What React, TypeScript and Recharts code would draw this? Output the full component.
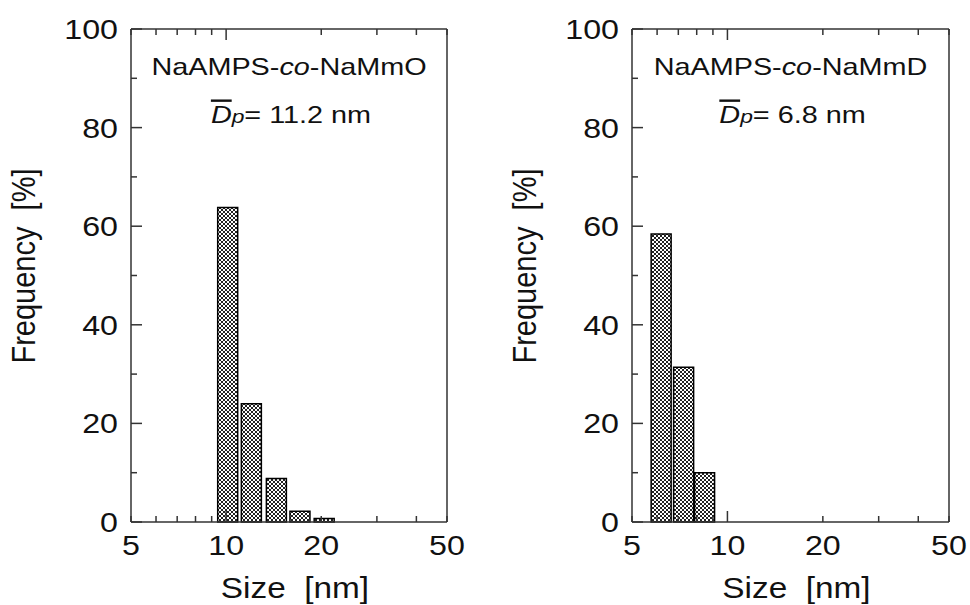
import { ComposedChart, Bar, XAxis, YAxis, Customized } from 'recharts'

const LEFT_SIZE = [10.1, 12.0, 14.4, 17.1, 20.4]
const LEFT_FREQ = [63.8, 24.0, 8.8, 2.2, 0.7]
const RIGHT_SIZE = [6.2, 7.3, 8.5]
const RIGHT_FREQ = [58.4, 31.4, 10.0]

const X_TICKS = [5, 6, 7, 8, 9, 10, 20, 30, 40, 50]
const X_LABELS = [5, 10, 20, 50]
const X_MAJOR = [10]
const Y_TICKS = [0, 10, 20, 30, 40, 50, 60, 70, 80, 90, 100]
const Y_LABELS = [0, 20, 40, 60, 80, 100]

const FONT = '"Liberation Sans", Arial, Helvetica, sans-serif'
const STRETCH = 1.15
const AXIS_COLOR = '#333'

const W = 485
const H = 605
const TOP = 29
const BOTTOM = 522

interface PanelProps {
  id: string
  left: number
  plotLeft: number
  plotRight: number
  sizes: number[]
  freqs: number[]
  title: string
  mean: string
}

const YTickLeft = (props: any) => {
  const { x, y, payload } = props
  const major = Y_LABELS.includes(payload.value)
  return (
    <g>
      <line x1={x} x2={x + (major ? 11 : 6)} y1={y} y2={y} stroke={AXIS_COLOR} strokeWidth={1.5} />
      {major && (
        <text
          transform={`translate(${x - 13},${y + 10}) scale(${STRETCH},1)`}
          textAnchor="end"
          fontSize={28}
          fontFamily={FONT}
          fill="#111"
        >
          {payload.value}
        </text>
      )}
    </g>
  )
}

const YTickRight = (props: any) => {
  const { x, y, payload } = props
  const major = Y_LABELS.includes(payload.value)
  return <line x1={x} x2={x - (major ? 11 : 6)} y1={y} y2={y} stroke={AXIS_COLOR} strokeWidth={1.5} />
}

const XTickBottom = (props: any) => {
  const { x, y, payload } = props
  const major = X_MAJOR.includes(payload.value)
  return (
    <g>
      <line x1={x} x2={x} y1={y} y2={y - (major ? 11 : 6)} stroke={AXIS_COLOR} strokeWidth={1.5} />
      {X_LABELS.includes(payload.value) && (
        <text
          transform={`translate(${x},${y + 33}) scale(${STRETCH},1)`}
          textAnchor="middle"
          fontSize={28}
          fontFamily={FONT}
          fill="#111"
        >
          {payload.value}
        </text>
      )}
    </g>
  )
}

const XTickTop = (props: any) => {
  const { x, y, payload } = props
  const major = X_MAJOR.includes(payload.value)
  return <line x1={x} x2={x} y1={y} y2={y + (major ? 11 : 6)} stroke={AXIS_COLOR} strokeWidth={1.5} />
}

const Panel = ({ id, left, plotLeft, plotRight, sizes, freqs, title, mean }: PanelProps) => {
  const data = sizes.map((s, i) => ({ size: s, freq: freqs[i] }))
  const cx = (plotLeft + plotRight) / 2
  const [head, tail] = title.split('-co-')

  const Notes = () => (
    <g fontFamily={FONT} fill="#111">
      <text transform={`translate(${cx},75) scale(1.2,1)`} textAnchor="middle" fontSize={24}>
        {head}-<tspan fontStyle="italic">co</tspan>-{tail}
      </text>
      <text transform={`translate(${cx + 2},123) scale(1.2,1)`} textAnchor="middle" fontSize={24}>
        <tspan fontStyle="italic" style={{ textDecoration: 'overline' }}>D</tspan>
        <tspan fontStyle="italic" fontSize={19}>p</tspan>= {mean} nm
      </text>
      <text
        transform={`translate(${plotLeft - 96},${266}) scale(${STRETCH},1) rotate(-90)`}
        textAnchor="middle"
        fontSize={29}
        xmlSpace="preserve"
      >
        Frequency  [%]
      </text>
      <text
        transform={`translate(${cx + 6},598) scale(${STRETCH},1)`}
        textAnchor="middle"
        fontSize={29}
        xmlSpace="preserve"
      >
        Size  [nm]
      </text>
    </g>
  )

  return (
    <div style={{ position: 'absolute', left, top: 0, width: W, height: H }}>
      <ComposedChart
        width={W}
        height={H}
        data={data}
        margin={{ top: TOP - 10, bottom: H - BOTTOM - 60, left: plotLeft - 100, right: W - plotRight - 10 }}
      >
        <defs>
          <pattern id={`hatch${id}`} width={4} height={4} patternUnits="userSpaceOnUse">
            <rect width={4} height={4} fill="#fff" />
            <path d="M0,0 L4,4 M4,0 L0,4" stroke="#222" strokeWidth={1} />
          </pattern>
        </defs>
        <XAxis
          dataKey="size"
          type="number"
          scale="log"
          domain={[5, 50]}
          allowDataOverflow
          ticks={X_TICKS}
          interval={0}
          height={60}
          tickSize={0}
          tickMargin={0}
          tick={<XTickBottom />}
          axisLine={{ stroke: AXIS_COLOR, strokeWidth: 1.5 }}
        />
        <XAxis
          xAxisId="top"
          orientation="top"
          dataKey="size"
          type="number"
          scale="log"
          domain={[5, 50]}
          allowDataOverflow
          ticks={X_TICKS}
          interval={0}
          height={10}
          tickSize={0}
          tickMargin={0}
          tick={<XTickTop />}
          axisLine={{ stroke: AXIS_COLOR, strokeWidth: 1.5 }}
        />
        <YAxis
          type="number"
          domain={[0, 100]}
          ticks={Y_TICKS}
          interval={0}
          width={100}
          tickSize={0}
          tickMargin={0}
          tick={<YTickLeft />}
          axisLine={{ stroke: AXIS_COLOR, strokeWidth: 1.5 }}
        />
        <YAxis
          yAxisId="right"
          orientation="right"
          type="number"
          domain={[0, 100]}
          ticks={Y_TICKS}
          interval={0}
          width={10}
          tickSize={0}
          tickMargin={0}
          tick={<YTickRight />}
          axisLine={{ stroke: AXIS_COLOR, strokeWidth: 1.5 }}
        />
        <Bar
          dataKey="freq"
          fill={`url(#hatch${id})`}
          stroke="#000"
          strokeWidth={1.5}
          barSize={20}
          isAnimationActive={false}
        />
        <Customized component={Notes} />
      </ComposedChart>
    </div>
  )
}

export default function App() {
  return (
    <div style={{ position: 'absolute', left: 0, top: 0, width: 970, height: 605, background: '#fff' }}>
      <Panel
        id="L"
        left={0}
        plotLeft={131}
        plotRight={447}
        sizes={LEFT_SIZE}
        freqs={LEFT_FREQ}
        title="NaAMPS-co-NaMmO"
        mean="11.2"
      />
      <Panel
        id="R"
        left={485}
        plotLeft={147}
        plotRight={464}
        sizes={RIGHT_SIZE}
        freqs={RIGHT_FREQ}
        title="NaAMPS-co-NaMmD"
        mean="6.8"
      />
    </div>
  )
}
